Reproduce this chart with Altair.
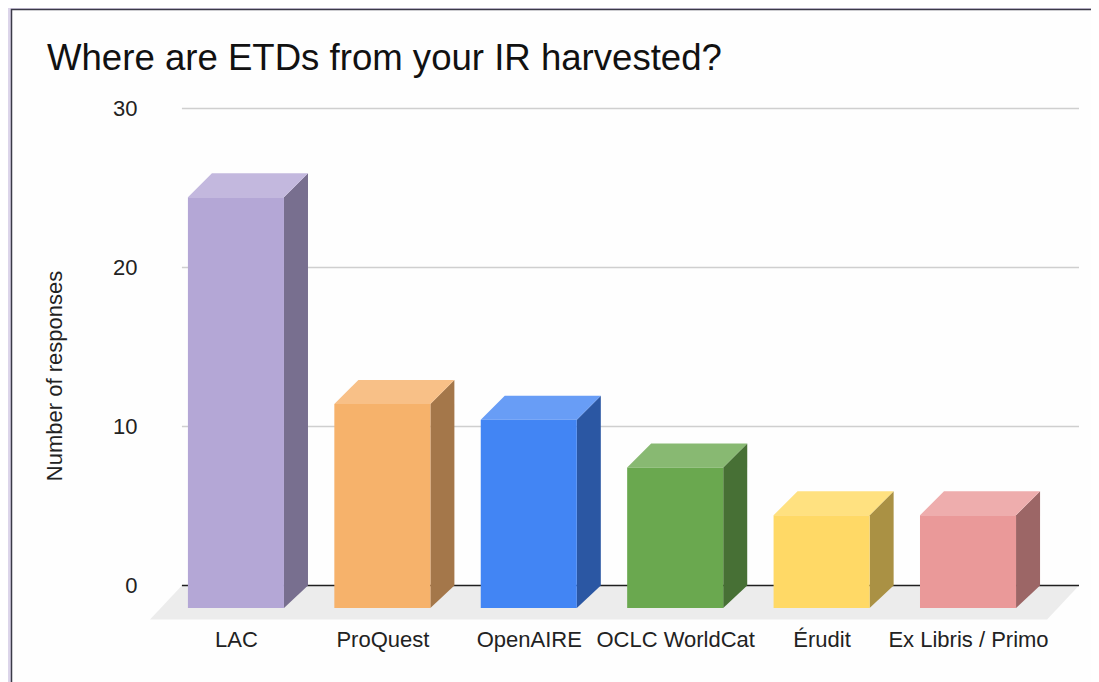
import altair as alt
import pandas as pd

categories = ["LAC", "ProQuest", "OpenAIRE", "OCLC WorldCat", "Érudit", "Ex Libris / Primo"]
values = [26, 13, 12, 9, 6, 6]
front_colors = ["#b4a7d6", "#f6b26b", "#4285f4", "#6aa84f", "#ffd966", "#ea9999"]
side_colors = ["#786f8f", "#a4774a", "#2b57a3", "#477035", "#aa9144", "#9c6666"]
top_colors = ["#c3b8de", "#f8c087", "#689df6", "#88b972", "#ffe180", "#eeadad"]
y_ticks = [0, 10, 20, 30]

FONT = "Liberation Sans"
BAR = 0.656      # bar width, in category steps
DX = 0.164       # depth of the 3D projection, in category steps
DY_TOP = 1.51    # depth of the 3D projection at the bar's top, in value units
DY_BOT = 1.42    # depth of the 3D projection at the bar's foot, in value units
TOP_INSET = 0.07 # the drawn bars stop just short of their value
GRID_L, GRID_R = -0.369, 5.758
FLOOR_L, FLOOR_R = -0.587, 5.54
FLOOR_Y = -2.14

fronts, tops, sides = [], [], []
for i, (c, v) in enumerate(zip(categories, values)):
    l, r = i - BAR / 2, i + BAR / 2
    h = v - TOP_INSET
    fronts.append(dict(cat=c, l=l, r=r, b=-DY_BOT, t=h - DY_TOP, color=front_colors[i]))
    tops += [
        dict(cat=c, y=h - DY_TOP, l=l, r=r, color=top_colors[i]),
        dict(cat=c, y=h, l=l + DX, r=r + DX, color=top_colors[i]),
    ]
    sides += [
        dict(cat=c, x=r, b=-DY_BOT, t=h - DY_TOP, color=side_colors[i]),
        dict(cat=c, x=r + DX, b=0, t=h, color=side_colors[i]),
    ]

xs = alt.Scale(domain=[-0.587, 5.758], nice=False, zero=False)
ys = alt.Scale(domain=[-2.2, 30], nice=False, zero=False)
label_js = "[" + ",".join(f"'{c}'" for c in categories) + "][round(datum.value)]"
col = alt.Color("color:N", scale=None, legend=None)
x_axis = alt.Axis(
    values=list(range(len(categories))), labelExpr=label_js, domain=False, ticks=False,
    grid=False, labelFont=FONT, labelFontSize=22, labelColor="#222222",
    labelPadding=9, labelOverlap=False, labelBound=False, labelFlush=False, zindex=1)
y_axis = alt.Axis(
    values=y_ticks, format="d", domain=False, ticks=False, grid=False,
    labelFont=FONT, labelFontSize=22, labelColor="#222222", labelPadding=13,
    titleFont=FONT, titleFontSize=22, titleFontWeight="normal", titleColor="#222222",
    titlePadding=46, titleY=267, zindex=1)
X = lambda f: alt.X(f, scale=xs, title=None, axis=x_axis)
Y = lambda f: alt.Y(f, scale=ys, title="Number of responses", axis=y_axis)

frame = alt.Chart(pd.DataFrame({"a": [0]})).mark_rect(
    fill="#fefefe", stroke="#3b3a48", strokeWidth=1.5
).encode(
    x=alt.value(-138.5), x2=alt.value(1000),
    y=alt.value(-99), y2=alt.value(700),
)

grid_df = pd.DataFrame({"v": y_ticks, "l": GRID_L, "r": GRID_R})
grid = alt.Chart(grid_df).mark_rule(strokeWidth=1.5).encode(
    x=X("l:Q"),
    x2="r:Q",
    y=Y("v:Q"),
    color=alt.condition("datum.v === 0", alt.value("#1f1f1f"), alt.value("#cfcfcf")),
    strokeWidth=alt.condition("datum.v === 0", alt.value(2), alt.value(1.5)),
)

floor_df = pd.DataFrame([
    dict(y=FLOOR_Y, l=FLOOR_L, r=FLOOR_R),
    dict(y=0, l=GRID_L, r=GRID_R),
])
floor = alt.Chart(floor_df).mark_area(orient="horizontal", color="#ececec").encode(
    y=Y("y:Q"),
    x=X("l:Q"),
    x2="r:Q",
)

side = alt.Chart(pd.DataFrame(sides)).mark_area(orient="vertical").encode(
    x=X("x:Q"),
    y=Y("b:Q"),
    y2="t:Q",
    color=col,
    detail="cat:N",
)
top = alt.Chart(pd.DataFrame(tops)).mark_area(orient="horizontal").encode(
    y=Y("y:Q"),
    x=X("l:Q"),
    x2="r:Q",
    color=col,
    detail="cat:N",
)
front = alt.Chart(pd.DataFrame(fronts)).mark_rect().encode(
    x=X("l:Q"),
    x2="r:Q",
    y=Y("b:Q"),
    y2="t:Q",
    color=col,
)

chart = alt.layer(frame, floor, grid, side, top, front).properties(
    width=929,
    height=512,
    background="#dcd5ea",
    padding={"left": 142, "top": 100.5, "right": 12, "bottom": 61.5},
    autosize=alt.AutoSizeParams(type="none"),
    title=alt.TitleParams(
        "Where are ETDs from your IR harvested?", anchor="start", frame="group",
        dx=-103, offset=-69, font=FONT, fontSize=36.6, fontWeight="normal", color="#111111",
        zindex=1,
    ),
).configure_view(stroke=None)

chart.save("out.html", embed_options={"renderer": "svg", "actions": False})
